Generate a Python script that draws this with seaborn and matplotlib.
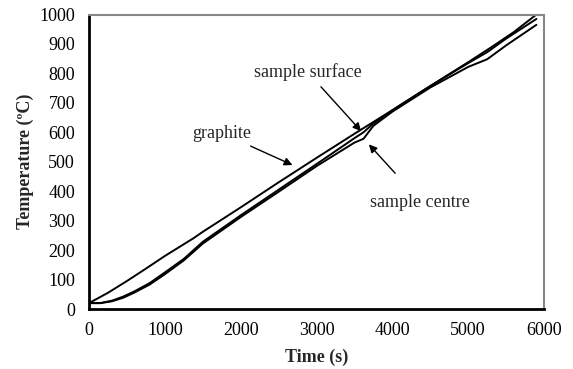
import matplotlib
matplotlib.use("Agg")
import matplotlib.pyplot as plt
import seaborn as sns
import pandas as pd

# readings
time_graphite = [0, 250, 500, 750, 1000, 1376, 1500, 2000, 2500, 3000, 3500,
                 4000, 4500, 5000, 5300, 5600, 5900]
temp_graphite = [20, 55, 95, 137, 180, 240, 262, 345, 430, 513, 595,
                 675, 757, 838, 888, 940, 1000]

time_sample = [0, 150, 300, 450, 600, 800, 1000, 1250, 1500, 2000, 2500,
               3000, 3500, 3620, 3750, 4000, 4500, 5000, 5250, 5500, 5900]
temp_surface = [20, 20, 28, 42, 60, 88, 124, 170, 228, 318, 405,
                492, 580, 600, 630, 675, 757, 835, 872, 918, 985]
temp_centre = [20, 20, 26, 38, 56, 83, 118, 165, 222, 312, 398,
               485, 565, 578, 622, 670, 752, 822, 848, 895, 965]

x_ticks = [0, 1000, 2000, 3000, 4000, 5000, 6000]
y_ticks = list(range(0, 1001, 100))

sns.set_style("white")
plt.rcParams["font.family"] = ["Liberation Serif", "DejaVu Serif"]

fig = plt.figure(figsize=(5.73, 3.69), dpi=100)
ax = fig.add_axes([0.1553, 0.1626, 0.7941, 0.7981])

df_g = pd.DataFrame({"t": time_graphite, "T": temp_graphite})
df_s = pd.DataFrame({"t": time_sample, "T": temp_surface})
df_c = pd.DataFrame({"t": time_sample, "T": temp_centre})
for df in (df_g, df_s, df_c):
    sns.lineplot(data=df, x="t", y="T", ax=ax, color="black", lw=1.4)

ax.set_xlim(0, 6000)
ax.set_ylim(0, 1000)
ax.set_xticks(x_ticks)
ax.set_yticks(y_ticks)
ax.tick_params(direction="in", length=5, width=1, labelsize=13, colors="black")
ax.tick_params(axis="x", pad=9)
ax.tick_params(axis="y", pad=10)
ax.set_xlabel("Time (s)", fontsize=13, fontweight="bold", labelpad=7)
ax.set_ylabel("Temperature (ºC)", fontsize=13, fontweight="bold", labelpad=4)

for side in ("left", "bottom"):
    ax.spines[side].set_color("black")
    ax.spines[side].set_linewidth(2)
for side in ("top", "right"):
    ax.spines[side].set_color("#888888")
    ax.spines[side].set_linewidth(1.5)

arrow = dict(arrowstyle="-|>", color="black", lw=1, mutation_scale=12)
ax.annotate("graphite", xy=(2717, 485), xytext=(1754, 597), fontsize=13,
            ha="center", va="center", arrowprops=arrow)
ax.annotate("sample surface", xy=(3613, 597), xytext=(2888, 803), fontsize=13,
            ha="center", va="center", arrowprops=arrow)
ax.annotate("", xy=(3666, 566), xytext=(4062, 454), arrowprops=arrow)
ax.text(4365, 363, "sample centre", fontsize=13, ha="center", va="center")

fig.savefig("out.png", dpi=100)
